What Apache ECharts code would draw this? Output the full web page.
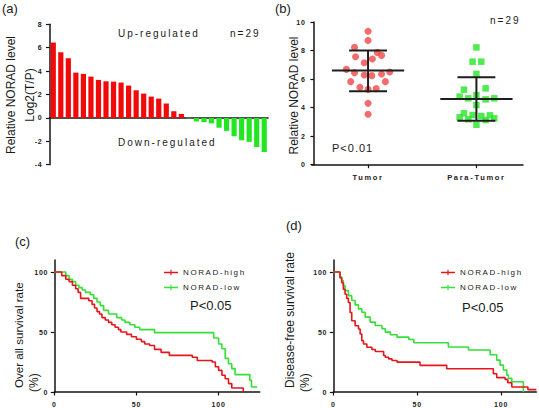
<!DOCTYPE html>
<html><head><meta charset="utf-8">
<script src="https://cdn.jsdelivr.net/npm/echarts@6/dist/echarts.min.js"></script>
<style>html,body{margin:0;padding:0;background:#fff}#c{width:539px;height:408px}</style>
</head><body><div id="c"></div>
<script>
// ---------- Panel (a): waterfall of log2(T/P) ----------
const barValues = [6.44,5.61,5.10,3.87,3.76,3.53,3.25,3.13,3.10,3.02,2.76,2.36,2.08,1.82,1.65,1.23,0.57,0.34,-0.05,-0.30,-0.37,-0.47,-0.84,-1.11,-1.57,-1.91,-2.05,-2.48,-2.92];
const barCategories = barValues.map((_, i) => 'S' + (i + 1));

// ---------- Panel (b): scatter with mean ± SD ----------
const groupNames = ['Tumor', 'Para-Tumor'];
const groupPos = [1, 3];
const tumorX = [1.0,1.0,0.75,1.17,1.25,0.77,1.08,0.93,0.6,0.75,0.93,1.07,1.25,1.4,0.68,1.32,0.85,1.0,1.15,1.0,1.0];
const tumorY = [9.35,8.71,8.22,7.87,7.66,7.57,7.41,7.15,6.68,6.45,6.29,6.24,6.36,6.50,5.82,5.82,5.42,5.28,5.33,4.30,3.53];
const paraX = [3.0,2.93,3.09,3.0,2.77,3.17,2.69,3.0,2.85,3.17,3.33,3.0,2.77,2.93,3.09,3.25,2.69,2.85,3.17,3.33,3.0];
const paraY = [8.22,7.22,7.22,6.36,5.26,5.35,4.77,4.88,4.65,4.58,4.65,4.18,3.6,3.48,3.41,3.46,3.32,3.18,3.13,3.25,2.8];
const groupMean = [6.6, 4.6];
const groupUpper = [8.0, 6.12];
const groupLower = [5.15, 3.08];

// ---------- Panel (c): overall survival ----------
const osHighT = [0,4.5,7,9,11,13,14.5,16,21,23,24.5,26,27.5,29,31,33,35,37,39,40.5,44,47,50,53,55,58,61,65,70,84,87,96,98,100,102,104,106,108,115];
const osHighS = [100,97,94,92,89,86,83,78,76,73,70,67,65,62,60,58,56,54,52,50,48,46,44,42,40,38.8,35.5,33,30.5,29,26.3,25,21,18,14,11,7,3.3,0];
const osLowT = [0,7,9,11,13,15,17,19,22,24,26,28,30,33,38,41,43,46,49,52,61,97,100,102,104,106,108,110,119,120,123.5];
const osLowS = [100,97,94,92,89,87,85,83,81,78,75,72,68,65,62,60,58,56,54,52,49.5,45,40,36,28,23.5,19.5,14.5,9.7,4.2,4.2];

// ---------- Panel (d): disease-free survival ----------
const dfsHighT = [0,4,5,6,7,8,9,10,11,13,15,16,17,18,20,23,25,30,31,33,35,38,51.7,67.6,95.4,97.4,102.4,104,106.4,116,121];
const dfsHighS = [100,95,91,85.6,81.5,78,74.6,66.3,59.4,55.2,52.5,48.3,42.8,40,37.3,35.4,33.7,30.4,29,27.6,26.3,24.9,22.2,19.4,15.2,12,10.5,7.8,4.2,2,2];
const dfsLowT = [0,4,5,6,7,9,11,13,15,17,19,22,25,29,31,34,38,45,48,68.6,80.6,93.5,97.4,99.4,101.4,103.4,104.4,106.4,113.3];
const dfsLowS = [100,96,92.8,88.6,84.5,80.3,76.2,72.6,69.3,66.5,62.4,58.2,55.4,52.7,49.9,47.7,45.7,43.8,41.1,37.5,35,31,26.6,22.4,18.3,14.1,11.4,8.6,0];

const survTicks = [0, 50, 100];
const legendNames = ['NORAD-high', 'NORAD-low'];

// ---------- styles ----------
const FONT = 'Liberation Sans, Arial, sans-serif';
const RED = '#f20a0a', GREEN = '#22e622';
const KM_RED = '#e8161c', KM_GREEN = '#36e036';
const AX = '#141414';
const axisLine = { show: true, onZero: true, lineStyle: { color: AX, width: 1.5 } };
const tickLbl = (m) => ({ fontFamily: FONT, fontWeight: 'bold', fontSize: 7, color: '#222', margin: m });

const zip = (a, b) => a.map((v, i) => [v, b[i]]);

// letter spacing for texts that are tracked out in the reference
const spacing = { 'Up-regulated': 2, 'Down-regulated': 2, 'n=29': 2, 'P<0.01': 1,
  'Tumor': 1.7, 'Para-Tumor': 1.7, 'NORAD-high': 1.6, 'NORAD-low': 1.6 };
function applySpacing() {
  document.querySelectorAll('#c text, #c tspan').forEach(t => {
    const s = (t.textContent || '').trim();
    let v = null;
    if (spacing[s] != null) v = spacing[s];
    else if (/^-?\d+$/.test(s)) v = 0.8;
    if (v != null && t.getAttribute('letter-spacing') !== String(v)) t.setAttribute('letter-spacing', v);
  });
}
const host = document.getElementById('c');
new MutationObserver(applySpacing).observe(host, { childList: true, subtree: true, characterData: true });

const chart = echarts.init(host, null, { renderer: 'svg', width: 539, height: 408 });

const legendBase = {
  orient: 'vertical', data: legendNames, selectedMode: false,
  itemWidth: 14, itemHeight: 7, itemGap: 6,
  icon: 'path://M0,3L20,3L20,5L0,5Z M9.2,0L10.8,0L10.8,8L9.2,8Z',
  textStyle: { fontFamily: FONT, fontSize: 8, color: '#1a1a1a', lineHeight: 9 }
};

const option = {
  animation: false,
  backgroundColor: '#fff',
  grid: [
    { left: 49.5, top: 24.3, width: 218.5, height: 140.4 },
    { left: 311.7, top: 22, width: 211.3, height: 142.7 },
    { left: 54.3, top: 260, width: 205.4, height: 132 },
    { left: 333.3, top: 260, width: 203, height: 132 }
  ],
  xAxis: [
    { gridIndex: 0, type: 'category', data: barCategories, axisLine: axisLine,
      axisTick: { show: false }, axisLabel: { show: false }, splitLine: { show: false } },
    { gridIndex: 1, type: 'value', min: -0.04, max: 3.86, axisLine: axisLine,
      axisTick: { show: true, length: 3.5, lineStyle: { color: AX, width: 1.2 }, customValues: groupPos },
      axisLabel: Object.assign(tickLbl(9), { fontSize: 7.5, customValues: groupPos,
        formatter: (v) => { const i = groupPos.findIndex(p => Math.abs(p - v) < 0.01); return i >= 0 ? groupNames[i] : ''; } }),
      splitLine: { show: false } },
    { gridIndex: 2, type: 'value', min: 0, max: 125, axisLine: axisLine,
      axisTick: { show: true, length: 3.5, lineStyle: { color: AX, width: 1.2 }, customValues: survTicks },
      axisLabel: Object.assign(tickLbl(9), { customValues: survTicks }), splitLine: { show: false } },
    { gridIndex: 3, type: 'value', min: 0, max: 121, axisLine: axisLine,
      axisTick: { show: true, length: 3.5, lineStyle: { color: AX, width: 1.2 }, customValues: survTicks },
      axisLabel: Object.assign(tickLbl(9), { customValues: survTicks }), splitLine: { show: false } }
  ],
  yAxis: [
    { gridIndex: 0, type: 'value', min: -4, max: 8, interval: 2, axisLine: axisLine,
      axisTick: { show: true, length: 3.5, lineStyle: { color: AX, width: 1.2 } },
      axisLabel: tickLbl(7), splitLine: { show: false } },
    { gridIndex: 1, type: 'value', min: 0, max: 10, interval: 2, axisLine: axisLine,
      axisTick: { show: true, length: 3.5, lineStyle: { color: AX, width: 1.2 } },
      axisLabel: tickLbl(6), splitLine: { show: false } },
    { gridIndex: 2, type: 'value', min: 0, max: 110, axisLine: axisLine,
      axisTick: { show: true, length: 3.5, lineStyle: { color: AX, width: 1.2 }, customValues: survTicks },
      axisLabel: Object.assign(tickLbl(6), { customValues: survTicks }), splitLine: { show: false } },
    { gridIndex: 3, type: 'value', min: 0, max: 110, axisLine: axisLine,
      axisTick: { show: true, length: 3.5, lineStyle: { color: AX, width: 1.2 }, customValues: survTicks },
      axisLabel: Object.assign(tickLbl(6), { customValues: survTicks }), splitLine: { show: false } }
  ],
  legend: [
    Object.assign({ left: 159, top: 263 }, legendBase),
    Object.assign({ left: 436, top: 263 }, legendBase)
  ],
  series: [
    { type: 'bar', xAxisIndex: 0, yAxisIndex: 0, data: barValues, barWidth: 5.2,
      itemStyle: { color: (p) => p.value >= 0 ? RED : GREEN } },
    { type: 'scatter', name: 'Tumor', xAxisIndex: 1, yAxisIndex: 1, data: zip(tumorX, tumorY),
      symbol: 'circle', symbolSize: 7, itemStyle: { color: '#f04646' }, z: 3 },
    { type: 'scatter', name: 'Para-Tumor', xAxisIndex: 1, yAxisIndex: 1, data: zip(paraX, paraY),
      symbol: 'rect', symbolSize: 6.5, itemStyle: { color: '#24e624' }, z: 3 },
    { type: 'custom', xAxisIndex: 1, yAxisIndex: 1, z: 5,
      data: groupPos.map((p, i) => [p, groupMean[i], groupUpper[i], groupLower[i]]),
      encode: { x: 0, y: [1, 2, 3] },
      renderItem: (params, api) => {
        const x = api.value(0), m = api.value(1), hi = api.value(2), lo = api.value(3);
        const c = (a, b) => api.coord([a, b]);
        const st = { stroke: '#1e1e1e', lineWidth: 2 };
        const seg = (a, b) => ({ type: 'line', shape: { x1: a[0], y1: a[1], x2: b[0], y2: b[1] }, style: st });
        const mh = 0.667, ch = 0.35;
        return { type: 'group', children: [
          seg(c(x - mh, m), c(x + mh, m)),
          seg(c(x, lo), c(x, hi)),
          seg(c(x - ch, hi), c(x + ch, hi)),
          seg(c(x - ch, lo), c(x + ch, lo))
        ] };
      } },
    { type: 'line', name: 'NORAD-high', xAxisIndex: 2, yAxisIndex: 2, step: 'end', showSymbol: false, symbol: 'none',
      data: zip(osHighT, osHighS), lineStyle: { color: KM_RED, width: 1.6 }, itemStyle: { color: KM_RED }, z: 4 },
    { type: 'line', name: 'NORAD-low', xAxisIndex: 2, yAxisIndex: 2, step: 'end', showSymbol: false, symbol: 'none',
      data: zip(osLowT, osLowS), lineStyle: { color: KM_GREEN, width: 1.6 }, itemStyle: { color: KM_GREEN }, z: 3 },
    { type: 'line', name: 'NORAD-high', xAxisIndex: 3, yAxisIndex: 3, step: 'end', showSymbol: false, symbol: 'none',
      data: zip(dfsHighT, dfsHighS), lineStyle: { color: KM_RED, width: 1.6 }, itemStyle: { color: KM_RED }, z: 4 },
    { type: 'line', name: 'NORAD-low', xAxisIndex: 3, yAxisIndex: 3, step: 'end', showSymbol: false, symbol: 'none',
      data: zip(dfsLowT, dfsLowS), lineStyle: { color: KM_GREEN, width: 1.6 }, itemStyle: { color: KM_GREEN }, z: 3 }
  ],
  graphic: []
};

function txt(text, x, y, size, align, rot) {
  return { type: 'text', x: x, y: y, rotation: rot || 0, silent: true,
    style: { text: text, font: size + 'px ' + FONT,
      fill: '#1a1a1a', align: align, textAlign: align, verticalAlign: 'middle', textVerticalAlign: 'middle' } };
}
const R = Math.PI / 2;
option.graphic = [
  txt('(a)', 2, 8, 13, 'left'),
  txt('(b)', 275, 8, 13, 'left'),
  txt('(c)', 15, 241, 13, 'left'),
  txt('(d)', 286, 225, 13, 'left'),
  txt('Relative NORAD level', 10.5, 95, 12, 'center', R),
  txt('Log2(T/P)', 30, 95, 12, 'center', R),
  txt('Relative NORAD level', 294, 95.5, 12, 'center', R),
  txt('Over all survival rate', 18.3, 388, 11.6, 'left', R),
  txt('(%)', 33.5, 392, 12, 'left', R),
  txt('Disease-free survival rate', 290, 388, 12, 'left', R),
  txt('(%)', 305, 392, 12, 'left', R),
  txt('Up-regulated', 118, 33, 10, 'left'),
  txt('n=29', 230, 33, 10, 'left'),
  txt('Down-regulated', 118, 142, 10, 'left'),
  txt('n=29', 490, 20, 10, 'left'),
  txt('P<0.01', 332, 148, 11, 'left'),
  txt('P<0.05', 190, 305, 13, 'left'),
  txt('P<0.05', 462, 307, 13, 'left')
];

chart.setOption(option);
applySpacing();
chart.on('finished', applySpacing);
requestAnimationFrame(applySpacing);
</script></body></html>
